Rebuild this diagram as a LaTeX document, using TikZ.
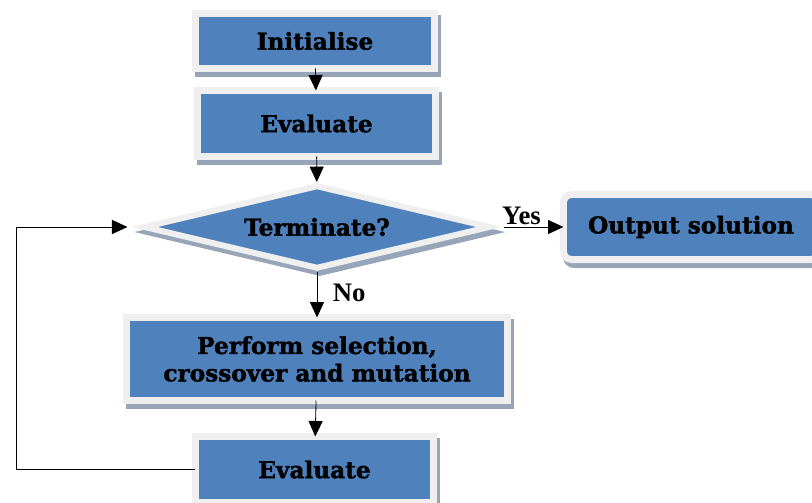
\documentclass[tikz,border=0pt]{standalone}
\usepackage{fontspec}
\setmainfont{Liberation Serif}
\newfontfamily\boxfont{DejaVu Serif}[BoldFeatures={FakeBold=1.6}]
\usetikzlibrary{arrows.meta,shapes.geometric,shadows}
\definecolor{boxblue}{HTML}{4F81BD}
\definecolor{boxrim}{HTML}{EFEFEF}
\definecolor{boxshade}{HTML}{98A5B9}
\tikzset{
  gabox/.style={rectangle, fill=boxblue, draw=boxrim, line width=0.175cm, outer sep=0pt, inner sep=0pt, align=center,
    font=\boxfont\bfseries\fontsize{16.5}{19.5}\selectfont,
    drop shadow={shadow xshift=2.1pt, shadow yshift=-3.6pt, fill=boxshade, draw=boxshade, opacity=1}},
  gadecide/.style={gabox, diamond, aspect=4, line width=0.15cm, outer sep=0.075cm},
  gaarrow/.style={line width=0.6pt, -{Triangle[length=11pt,width=10pt]}},
  galabel/.style={font=\bfseries\fontsize{19}{22}\selectfont, inner sep=1pt}
}
\begin{document}
\begin{tikzpicture}[x=0.025cm, y=-0.025cm]
  \useasboundingbox (0,0) rectangle (812,503);

  \node[gabox, minimum width=5.975cm, minimum height=1.375cm] (init) at (315,41) {Initialise};
  \node[gabox, minimum width=5.95cm, minimum height=1.65cm] (eval) at (316.5,123.5) {Evaluate};
  \node[gadecide, minimum width=8.675cm, minimum height=2.1cm] (term) at (317,227) {Terminate?};
  \node[gabox, rounded corners=0.2cm, minimum width=6.375cm, minimum height=1.625cm] (out) at (691,227) {Output solution};
  \node[gabox, minimum width=9.525cm, minimum height=2.075cm] (ops) at (317,359) {Perform selection,\\crossover and mutation};
  \node[gabox, minimum width=5.95cm, minimum height=1.65cm] (reval) at (314.5,469.5) {Evaluate};
  \coordinate (loop) at (16,0);

  \draw[gaarrow] (init) -- (eval);
  \draw[gaarrow] (eval) -- (term);
  \draw[gaarrow] ([xshift=0.25cm]term.east) -- node[galabel, pos=0.3, above] {Yes} (out);
  \draw[gaarrow] (term) -- node[galabel, pos=0.45, right, xshift=10pt] {No} (ops);
  \draw[gaarrow] (ops) -- (reval);
  \draw[gaarrow] (reval.west) -- (loop |- reval.west) |- ([xshift=-0.325cm]term.west);
\end{tikzpicture}
\end{document}
